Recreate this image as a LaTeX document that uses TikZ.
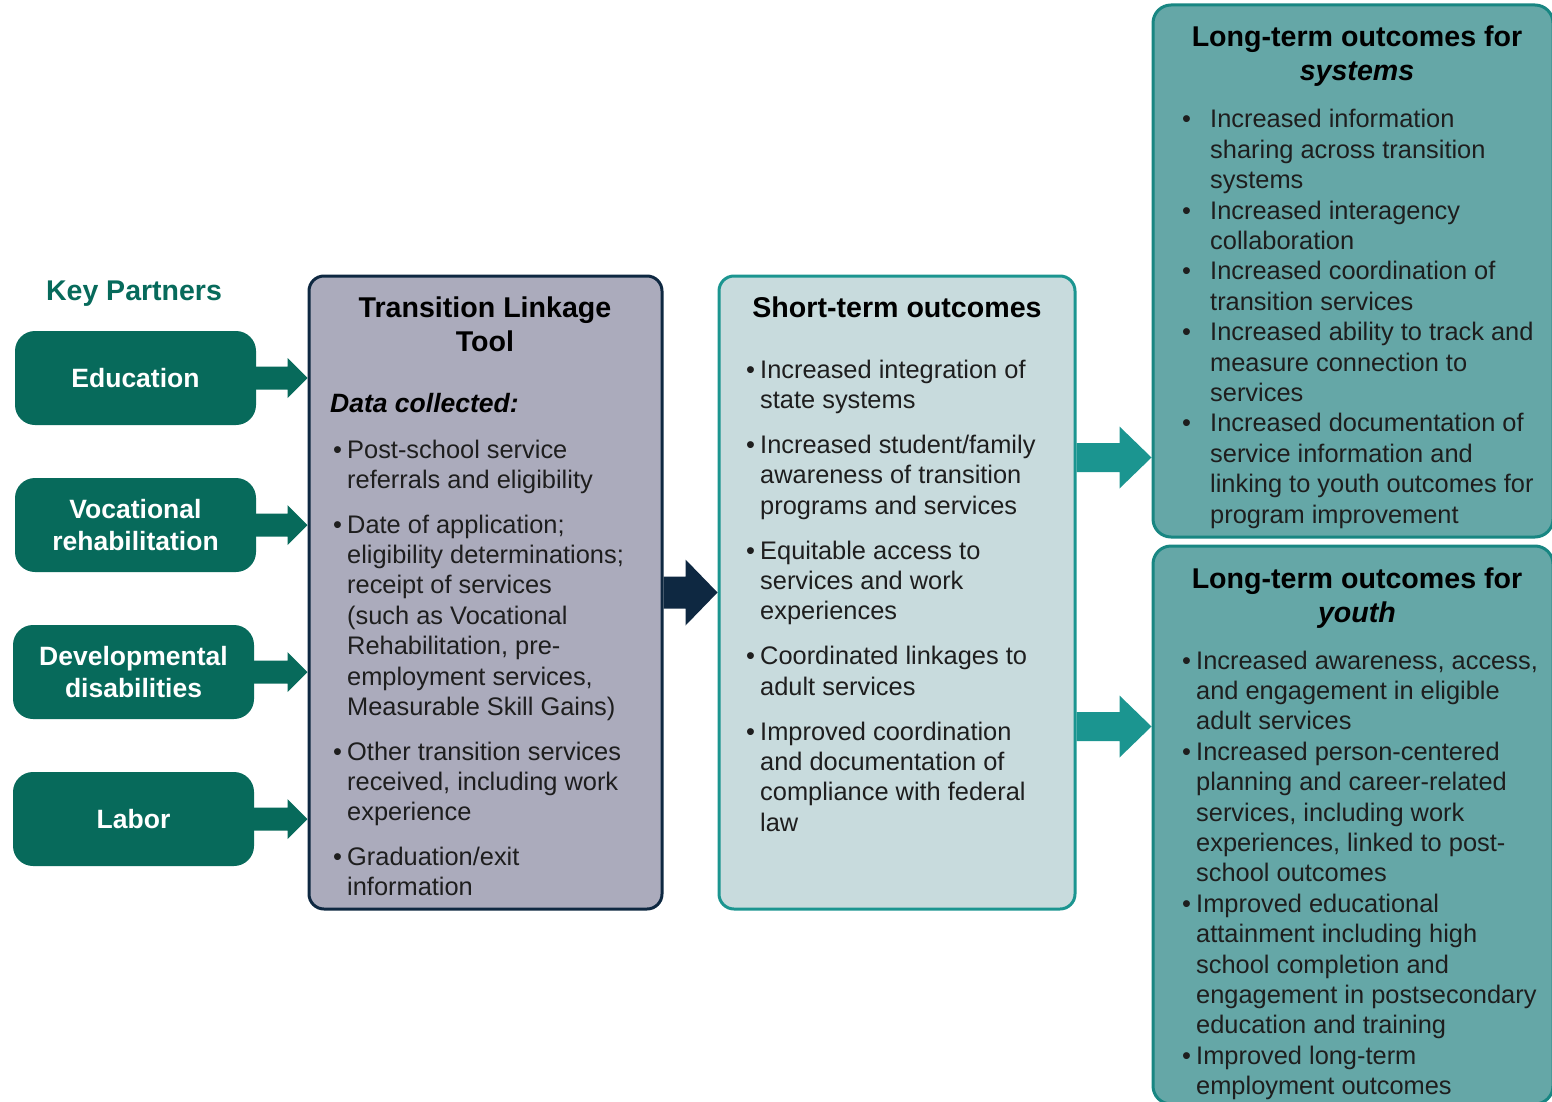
\documentclass[tikz,border=0pt]{standalone}
\usepackage{fontspec}
\setmainfont{Liberation Sans}
\usetikzlibrary{calc}

\definecolor{partnergreen}{HTML}{076A5B}
\definecolor{toolgray}{HTML}{ABABBC}
\definecolor{navy}{HTML}{0E2841}
\definecolor{shortfill}{HTML}{C8DBDD}
\definecolor{tealline}{HTML}{1B9590}
\definecolor{longfill}{HTML}{65A7A7}
\definecolor{bodytext}{HTML}{1E1E1E}

\newcommand{\bl}{\textbullet}
% block arrow: [style]{start}{target anchor}{shaft half}{head half}{head length}
\newcommand{\fatarrow}[6][]{%
	\path (#2) coordinate (faS);
	\path (#3 |- faS) coordinate (faE);
	\fill[#1] ($(faS)+(0,#4)$) -- ($(faE)+(-#6,#4)$) -- ($(faE)+(-#6,#5)$) -- (faE)
		-- ($(faE)+(-#6,-#5)$) -- ($(faE)+(-#6,-#4)$) -- ($(faS)+(0,-#4)$) -- cycle;}

\begin{document}
\begin{tikzpicture}[x=1pt, y=-1pt,
		partner/.style={fill=partnergreen, rounded corners=20pt, minimum width=241pt, minimum height=94pt,
			text=white, align=center, font=\fontsize{26.5}{32}\selectfont\bfseries},
		toolbox/.style={draw=navy, line width=3pt, fill=toolgray, rounded corners=15pt},
		shortbox/.style={draw=tealline, line width=3pt, fill=shortfill, rounded corners=15pt},
		longbox/.style={draw=tealline!90!black, line width=3pt, fill=longfill, rounded corners=18pt},
		boxtitle/.style={anchor=base, inner sep=0pt, text=black, font=\fontsize{28.6}{34}\selectfont\bfseries},
		listtxt/.style={anchor=base west, inner sep=0pt, text=bodytext, font=\fontsize{25.4}{30.4}\selectfont},
		ptarrow/.style={fill=partnergreen},
		navyarrow/.style={fill=navy},
		tealarrow/.style={fill=tealline}]
	\clip (0,0) rectangle (1552,1102);
	
	% Key partners
	\node[anchor=base, inner sep=0pt, text=partnergreen, font=\fontsize{28.5}{34}\selectfont\bfseries] (keyTitle) at (134,300) {Key Partners};
	\node[partner] (edu) at (135.5,378) {Education};
	\node[partner] (voc) at (135.5,525) {Vocational\\rehabilitation};
	\node[partner] (dev) at (133.5,672) {Developmental\\disabilities};
	\node[partner] (labor) at (133.5,819) {Labor};
	
	% Boxes
	\node[toolbox, minimum width=353pt, minimum height=633pt] (tool) at (485.5,592.5) {};
	\node[shortbox, minimum width=356pt, minimum height=633pt] (short) at (897,592.5) {};
	\node[longbox, minimum width=400pt, minimum height=532pt] (longsys) at (1353,271) {};
	\node[longbox, minimum width=400pt, minimum height=558pt] (longyouth) at (1353,825) {};
	
	% Arrows
	\fatarrow[ptarrow]{edu.east}{tool.west}{11.5}{20}{20}
	\fatarrow[ptarrow]{voc.east}{tool.west}{11.5}{20}{20}
	\fatarrow[ptarrow]{dev.east}{tool.west}{11.5}{20}{20}
	\fatarrow[ptarrow]{labor.east}{tool.west}{11.5}{20}{20}
	\fatarrow[navyarrow]{tool.east}{short.west}{16}{33}{32}
	\fatarrow[tealarrow]{$(short.east)+(0,-135)$}{longsys.west}{14.5}{31}{32}
	\fatarrow[tealarrow]{$(short.east)+(0,134)$}{longyouth.west}{14.5}{31}{32}
	
	% Transition Linkage Tool
	\node[boxtitle] (toolTitle) at (485,317) {\begin{tabular}[t]{@{}c@{}}Transition Linkage\\Tool\end{tabular}};
	\node[anchor=base west, inner sep=0pt, text=black, font=\fontsize{26.5}{32}\selectfont\bfseries\itshape] (toolData) at (330,412) {Data collected:};
	\node[listtxt] (toolList) at (333,458) {\begin{tabular}[t]{@{}p{14pt}@{}l@{}}
		\bl & Post-school service\\
		& referrals and eligibility\\[14.2pt]
		\bl & Date of application;\\
		& eligibility determinations;\\
		& receipt of services\\
		& (such as Vocational\\
		& Rehabilitation, pre-\\
		& employment services,\\
		& Measurable Skill Gains)\\[14.2pt]
		\bl & Other transition services\\
		& received, including work\\
		& experience\\[14.2pt]
		\bl & Graduation/exit\\
		& information
	\end{tabular}};
	
	% Short-term outcomes
	\node[boxtitle] (shortTitle) at (897,317) {Short-term outcomes};
	\node[listtxt] (shortList) at (746,378) {\begin{tabular}[t]{@{}p{14pt}@{}l@{}}
		\bl & Increased integration of\\
		& state systems\\[14.5pt]
		\bl & Increased student/family\\
		& awareness of transition\\
		& programs and services\\[14.5pt]
		\bl & Equitable access to\\
		& services and work\\
		& experiences\\[14.5pt]
		\bl & Coordinated linkages to\\
		& adult services\\[14.5pt]
		\bl & Improved coordination\\
		& and documentation of\\
		& compliance with federal\\
		& law
	\end{tabular}};
	
	% Long-term outcomes for systems
	\node[boxtitle] (sysTitle) at (1357,47) {\begin{tabular}[t]{@{}c@{}}Long-term outcomes for\\\textit{systems}\end{tabular}};
	\node[listtxt] (sysList) at (1182,128) {\begin{tabular}[t]{@{}p{28pt}@{}l@{}}
		\bl & Increased information\\
		& sharing across transition\\
		& systems\\
		\bl & Increased interagency\\
		& collaboration\\
		\bl & Increased coordination of\\
		& transition services\\
		\bl & Increased ability to track and\\
		& measure connection to\\
		& services\\
		\bl & Increased documentation of\\
		& service information and\\
		& linking to youth outcomes for\\
		& program improvement
	\end{tabular}};
	
	% Long-term outcomes for youth
	\node[boxtitle] (youthTitle) at (1357,588) {\begin{tabular}[t]{@{}c@{}}Long-term outcomes for\\\textit{youth}\end{tabular}};
	\node[listtxt] (youthList) at (1182,669) {\begin{tabular}[t]{@{}p{14pt}@{}l@{}}
		\bl & Increased awareness, access,\\
		& and engagement in eligible\\
		& adult services\\
		\bl & Increased person-centered\\
		& planning and career-related\\
		& services, including work\\
		& experiences, linked to post-\\
		& school outcomes\\
		\bl & Improved educational\\
		& attainment including high\\
		& school completion and\\
		& engagement in postsecondary\\
		& education and training\\
		\bl & Improved long-term\\
		& employment outcomes
	\end{tabular}};
\end{tikzpicture}
\end{document}
